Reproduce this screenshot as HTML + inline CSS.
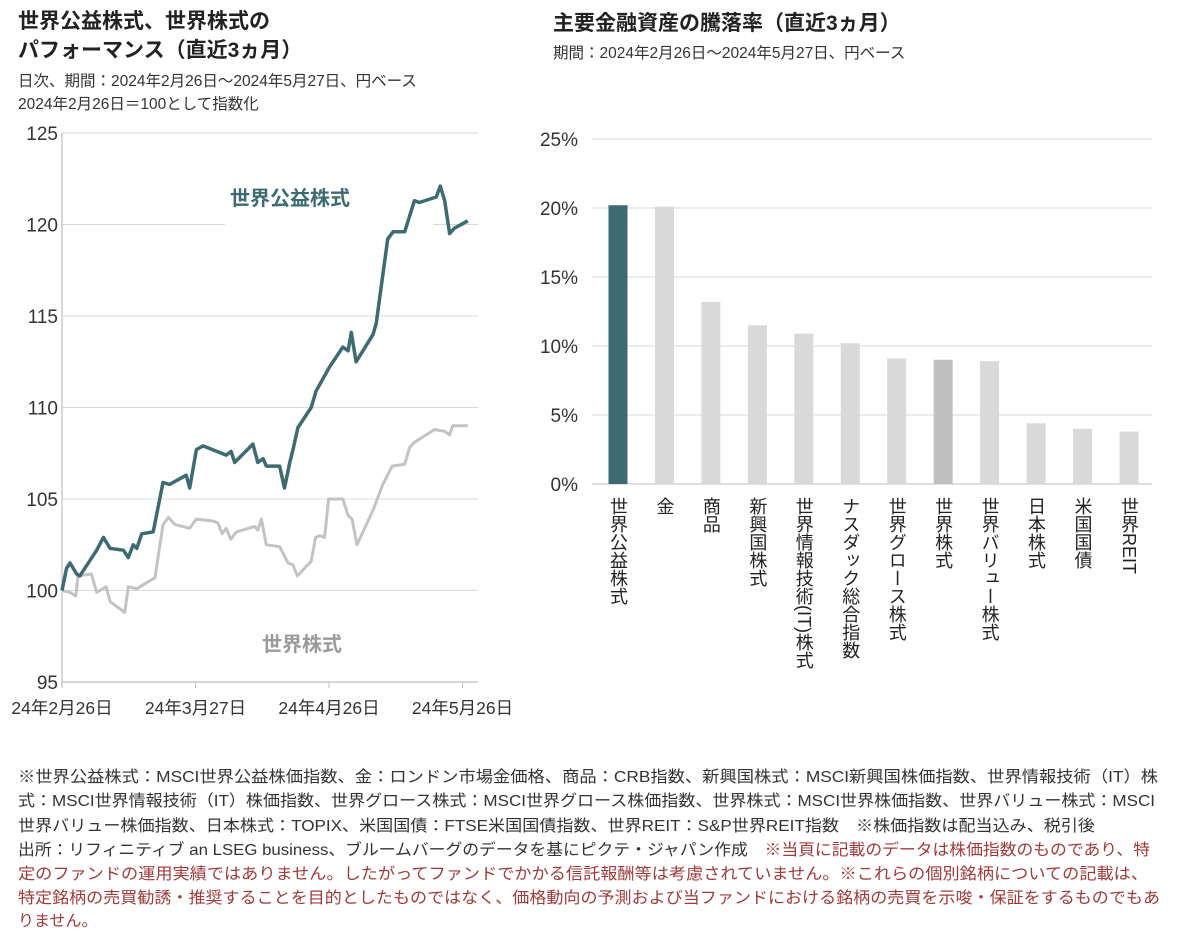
<!DOCTYPE html>
<html><head><meta charset="utf-8"><style>
body{margin:0;background:#fff;}
svg{display:block;font-family:"Liberation Sans","Noto Sans CJK JP",sans-serif;}
</style></head><body>
<svg id="svg" width="1200" height="930" viewBox="0 0 1200 930">
<g font-weight="bold" font-size="21" fill="#222">
<text x="18" y="28">世界公益株式、世界株式の</text>
<text x="18" y="57">パフォーマンス（直近3ヵ月）</text>
</g>
<g font-size="15.5" fill="#333">
<text x="18" y="86">日次、期間：2024年2月26日～2024年5月27日、円ベース</text>
<text x="18" y="109">2024年2月26日＝100として指数化</text>
</g>
<g><text x="553" y="30" font-weight="bold" font-size="21" fill="#222">主要金融資産の騰落率（直近3ヵ月）</text>
<text x="553" y="58" font-size="15.5" fill="#333">期間：2024年2月26日～2024年5月27日、円ベース</text></g>
<g id="left"></g>
<g id="right"></g>
<g font-size="16" fill="#333">
<text x="18" y="782" textLength="1140" lengthAdjust="spacingAndGlyphs">※世界公益株式：MSCI世界公益株価指数、金：ロンドン市場金価格、商品：CRB指数、新興国株式：MSCI新興国株価指数、世界情報技術（IT）株</text>
<text x="18" y="806" textLength="1137" lengthAdjust="spacingAndGlyphs">式：MSCI世界情報技術（IT）株価指数、世界グロース株式：MSCI世界グロース株価指数、世界株式：MSCI世界株価指数、世界バリュー株式：MSCI</text>
<text x="18" y="831" textLength="1077" lengthAdjust="spacingAndGlyphs">世界バリュー株価指数、日本株式：TOPIX、米国国債：FTSE米国国債指数、世界REIT：S&amp;P世界REIT指数　※株価指数は配当込み、税引後</text>
<text x="18" y="855" textLength="1132" lengthAdjust="spacingAndGlyphs">出所：リフィニティブ an LSEG business、ブルームバーグのデータを基にピクテ・ジャパン作成　<tspan fill="#a03a3a">※当頁に記載のデータは株価指数のものであり、特</tspan></text>
<g fill="#a03a3a">
<text x="18" y="879" textLength="1130" lengthAdjust="spacingAndGlyphs">定のファンドの運用実績ではありません。したがってファンドでかかる信託報酬等は考慮されていません。※これらの個別銘柄についての記載は、</text>
<text x="18" y="903" textLength="1142" lengthAdjust="spacingAndGlyphs">特定銘柄の売買勧誘・推奨することを目的としたものではなく、価格動向の予測および当ファンドにおける銘柄の売買を示唆・保証をするものでもあ</text>
<text x="18" y="926">りません。</text>
</g></g>
</svg>
<script>
// Line chart data (day offset from 2024-02-26, index value)
const utilDays=[0,1,1.8,3.3,4,7.8,9.3,10.8,13.8,14.9,16,16.8,17.9,20.5,22.7,24.2,27.9,28.7,30.2,31.7,36.9,38,38.8,42.9,44,45.2,45.9,48.9,50,51.2,51.9,53,56,57.1,60.1,63.1,64.3,65,66.1,69.9,70.6,73.2,74.4,77,79.2,80.3,84.1,85,86,87.1,88.2,91.2];
const utilVals=[100,101.2,101.5,100.9,100.8,102.2,102.9,102.3,102.2,101.8,102.5,102.3,103.1,103.2,105.9,105.8,106.3,105.6,107.7,107.9,107.4,107.6,107.0,108.0,107.0,107.2,106.8,106.8,105.6,107.0,107.7,108.9,110.0,110.9,112.2,113.3,113.1,114.1,112.5,114.0,114.6,119.2,119.6,119.6,121.3,121.2,121.5,122.1,121.3,119.5,119.8,120.2];
const worldDays=[0,1.8,3.1,3.6,6.6,7.8,9.9,10.8,14.1,14.9,16.8,20.9,22.7,23.9,25.4,28.7,30.2,33.9,35,36,36.9,37.9,39.2,43.3,44,44.8,45.9,48.9,50.8,51.9,52.9,56,57,57.9,59,59.9,63.1,64.3,65.2,66.3,69.9,72.1,74.2,77,78.1,79.2,83.7,86,87.1,87.8,91.2];
const worldVals=[100,99.9,99.7,100.8,100.9,99.9,100.2,99.4,98.8,100.2,100.1,100.7,103.6,104.0,103.6,103.4,103.9,103.8,103.7,103.1,103.4,102.8,103.2,103.5,103.3,103.9,102.5,102.4,101.5,101.4,100.8,101.6,102.9,103.0,102.9,105.0,105.0,104.1,103.9,102.5,104.4,105.8,106.8,106.9,107.8,108.1,108.8,108.7,108.5,109.0,109.0];
const yTicks=[95,100,105,110,115,120,125];
const xTickDays=[0,30,60,90];
const xTickLabels=["24年2月26日","24年3月27日","24年4月26日","24年5月26日"];
// Bar chart data
const barCats=["世界公益株式","金","商品","新興国株式","世界情報技術(IT)株式","ナスダック総合指数","世界グロース株式","世界株式","世界バリュー株式","日本株式","米国国債","世界REIT"];
const barVals=[20.2,20.1,13.2,11.5,10.9,10.2,9.1,9.0,8.9,4.4,4.0,3.8];
const pctTicks=[0,5,10,15,20,25];

const NS="http://www.w3.org/2000/svg";
function mk(tag,attrs,parent,txt){const e=document.createElementNS(NS,tag);for(const k in attrs)e.setAttribute(k,attrs[k]);if(txt!==undefined)e.textContent=txt;parent.appendChild(e);return e;}
const L=document.getElementById('left');
const lx=d=>62+d*4.45;
const ly=v=>682-(v-95)*18.3;
yTicks.forEach(t=>{
 const g=mk('line',{x1:62,x2:478,y1:ly(t),y2:ly(t),stroke:'#d9d9d9','stroke-width':1},L);
 
 
 const tx=mk('text',{x:58,y:ly(t)+7,'text-anchor':'end','font-size':19,fill:'#333'},L,String(t));
 
 
});
const la=mk('rect',{x:225,y:218,width:208,height:12,fill:'#fff'},L);


const ax=mk('line',{x1:62,x2:62,y1:133,y2:686,stroke:'#bfbfbf','stroke-width':1.2},L);


const bx=mk('line',{x1:62,x2:478,y1:682,y2:682,stroke:'#bfbfbf','stroke-width':1.2},L);


xTickDays.forEach((d,i)=>{
 const tk=mk('line',{x1:lx(d),x2:lx(d),y1:682,y2:688,stroke:'#bfbfbf'},L);
 
 
 const tl=mk('text',{x:lx(d),y:714,'text-anchor':'middle','font-size':17.5,fill:'#333'},L,xTickLabels[i]);
 
 
});
function path(days,vals){return days.map((d,i)=>(i?'L':'M')+lx(d).toFixed(1)+','+ly(vals[i]).toFixed(1)).join('');}
const wl=mk('path',{d:path(worldDays,worldVals),fill:'none',stroke:'#c3c3c3','stroke-width':3,'stroke-linejoin':'round'},L);


const ul=mk('path',{d:path(utilDays,utilVals),fill:'none',stroke:'#3d6b71','stroke-width':3.5,'stroke-linejoin':'round'},L);


const ulab=mk('text',{x:230,y:205,'font-size':20,'font-weight':'bold',fill:'#3d6b71'},L,'世界公益株式');


const wlab=mk('text',{x:262,y:651,'font-size':20,'font-weight':'bold',fill:'#9a9a9a'},L,'世界株式');



const R=document.getElementById('right');
const by=v=>484-v*13.8;
const bxc=i=>618+i*46.45;
pctTicks.forEach(t=>{
 const g=mk('line',{x1:592,x2:1152,y1:by(t),y2:by(t),stroke:t===0?'#bfbfbf':'#d9d9d9','stroke-width':1},R);
 
 
 const tx=mk('text',{x:578,y:by(t)+7,'text-anchor':'end','font-size':19,fill:'#333'},R,t+'%');
 
 
});
barCats.forEach((c,i)=>{
 const col=i===0?'#3d6b71':(c==='世界株式'?'#c0c0c0':'#d9d9d9');
 const r=mk('rect',{x:bxc(i)-9.5,y:by(barVals[i]),width:19,height:barVals[i]*13.8,fill:col},R);
 
 
 const t=mk('text',{x:bxc(i),y:497,'font-size':18,fill:'#222','writing-mode':'vertical-rl','text-orientation':'upright'},R,c);
 
 
});
</script>
</body></html>
